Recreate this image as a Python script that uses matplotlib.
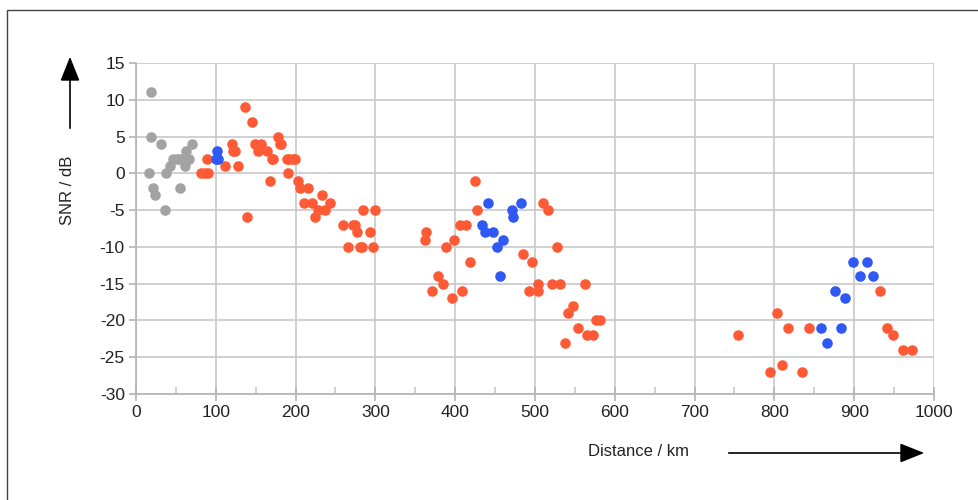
import matplotlib
matplotlib.use("Agg")
import matplotlib.pyplot as plt
from matplotlib.patches import Rectangle

plt.rcParams['font.family'] = ['Liberation Sans', 'DejaVu Sans']
plt.rcParams['axes.unicode_minus'] = False

# gray group (short range)
gray_x = [19, 19, 31, 16, 21, 24, 36, 38, 43, 47, 51, 55, 55, 59, 61, 63, 66, 70]
gray_y = [11, 5, 4, 0, -2, -3, -5, 0, 1, 2, 2, -2, 2, 2, 1, 3, 2, 4]

# blue group
blue_x = [100, 102, 103, 433, 437, 441, 448, 452, 456, 460, 471, 473, 483,
          858, 866, 876, 884, 889, 899, 907, 916, 923]
blue_y = [2, 3, 2, -7, -8, -4, -8, -10, -14, -9, -5, -6, -4,
          -21, -23, -16, -21, -17, -12, -14, -12, -14]

# red group
red_x = [82, 87, 89, 90, 111, 120, 122, 124, 128, 137, 139, 145, 149, 153, 157,
         164, 168, 170, 172, 178, 181, 182, 189, 191, 192, 197, 199, 203, 205,
         210, 216, 220, 224, 228, 233, 237, 243,
         260, 266, 272, 274, 277, 281, 283, 285, 293, 297, 300,
         362, 364, 371, 379, 385, 389, 396, 398, 406, 409, 414, 419, 425, 427,
         485, 492, 496, 504, 504, 510, 516, 521, 527, 531, 538, 542, 548, 554,
         563, 565, 573, 577, 581,
         755, 795, 803, 809, 817, 834, 843, 932, 941, 949, 961, 972]
red_y = [0, 0, 2, 0, 1, 4, 3, 3, 1, 9, -6, 7, 4, 3, 4,
         3, -1, 2, 2, 5, 4, 4, 2, 0, 2, 2, 2, -1, -2,
         -4, -2, -4, -6, -5, -3, -5, -4,
         -7, -10, -7, -7, -8, -10, -10, -5, -8, -10, -5,
         -9, -8, -16, -14, -15, -10, -17, -9, -7, -16, -7, -12, -1, -5,
         -11, -16, -12, -15, -16, -4, -5, -15, -10, -15, -23, -19, -18, -21,
         -15, -22, -22, -20, -20,
         -22, -27, -19, -26, -21, -27, -21, -16, -21, -22, -24, -24]

x_ticks = list(range(0, 1001, 100))
y_ticks = list(range(-30, 16, 5))

fig = plt.figure(figsize=(9.79, 5.0), dpi=100)
ax = fig.add_axes([0.1389, 0.212, 0.8151, 0.662])

ax.scatter(gray_x, gray_y, s=58, color='#a3a3a3', zorder=3, linewidths=0)
ax.scatter(red_x, red_y, s=58, color='#ff5a36', zorder=3, linewidths=0)
ax.scatter(blue_x, blue_y, s=58, color='#2f58f5', zorder=4, linewidths=0)

ax.set_xlim(0, 1000)
ax.set_ylim(-30, 15)
ax.set_xticks(x_ticks)
ax.set_yticks(y_ticks)
ax.set_xticks(list(range(50, 1000, 100)), minor=True)
ax.grid(True, color='#c8c8c8', linewidth=1.2, zorder=0)
for s in ['top', 'right']:
    ax.spines[s].set_visible(False)
for s in ['left', 'bottom']:
    ax.spines[s].set_color('#b3b3b3')
    ax.spines[s].set_linewidth(1.2)
ax.tick_params(axis='both', which='major', color='#b3b3b3', length=5, width=1.2,
               labelsize=12.5, labelcolor='#222222', pad=3)
ax.tick_params(axis='x', which='major', direction='inout', length=10)
ax.tick_params(axis='x', which='minor', direction='in', length=5, color='#c8c8c8', width=1.2)

# labels and arrows in figure coordinates
fig.text(68 / 979, 1 - 190 / 500, 'SNR / dB', rotation=90, ha='center', va='center',
         fontsize=12, color='#222222')
fig.text(638 / 979, 1 - 451 / 500, 'Distance / km', ha='center', va='center',
         fontsize=12, color='#222222')
fig.add_artist(plt.Annotation('', xy=(70 / 979, 1 - 54 / 500), xytext=(70 / 979, 1 - 131 / 500),
                              xycoords='figure fraction',
                              arrowprops=dict(arrowstyle='-|>,head_length=1.5,head_width=0.6',
                                              color='black', lw=1.2)))
fig.add_artist(plt.Annotation('', xy=(927 / 979, 1 - 453 / 500), xytext=(726 / 979, 1 - 453 / 500),
                              xycoords='figure fraction',
                              arrowprops=dict(arrowstyle='-|>,head_length=1.5,head_width=0.6',
                                              color='black', lw=1.2)))

# outer frame
fig.add_artist(Rectangle((7 / 979, -0.05), 1.05, 1 - 10 / 500 + 0.05, transform=fig.transFigure,
                         fill=False, edgecolor='#444444', linewidth=1.0))

fig.savefig('out.png', dpi=100)
